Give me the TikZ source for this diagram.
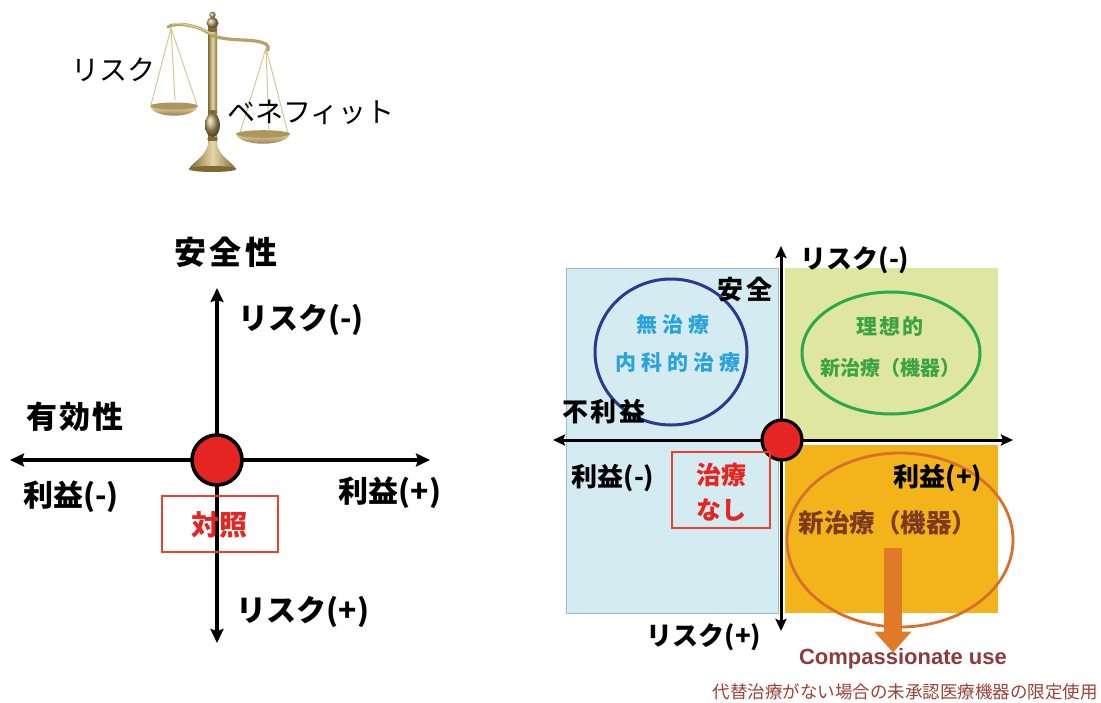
\documentclass[tikz,border=0pt]{standalone}
\usepackage{fontspec}
\usetikzlibrary{arrows.meta,shapes.geometric}
\newfontfamily\jp{Noto Sans CJK JP}
\newfontfamily\lat{Liberation Sans}
\definecolor{goldL}{HTML}{E6D6A6}
\definecolor{goldM}{HTML}{B9A067}
\definecolor{goldD}{HTML}{7E6836}
\definecolor{paneBlue}{HTML}{D3EBF1}
\definecolor{paneBlueEdge}{HTML}{9DB9CB}
\definecolor{paneGreen}{HTML}{DFE6A0}
\definecolor{paneOrange}{HTML}{F2B31B}
\definecolor{boxRed}{HTML}{E8412C}
\definecolor{dotRed}{HTML}{E52521}
\definecolor{ringBlue}{HTML}{2B3990}
\definecolor{txtCyan}{HTML}{2AA3DA}
\definecolor{ringGreen}{HTML}{2AA84A}
\definecolor{txtGreen}{HTML}{3BA344}
\definecolor{txtBrown}{HTML}{7E3A1F}
\definecolor{ringOrange}{HTML}{D8702C}
\definecolor{arrOrange}{HTML}{E07A27}
\definecolor{txtMaroon}{HTML}{8E3B3B}
\definecolor{txtRust}{HTML}{9B4236}
\begin{document}
\begin{tikzpicture}[x=1pt,y=-1pt,
  axline/.style={line width=3.6pt,{Stealth[length=14pt,width=13pt,inset=2pt]}-{Stealth[length=14pt,width=13pt,inset=2pt]}},
  axlineR/.style={line width=3pt,{Stealth[length=12pt,width=11pt,inset=2pt]}-{Stealth[length=12pt,width=11pt,inset=2pt]}},
  labL/.style={inner sep=0pt,font=\jp\bfseries\fontsize{30}{36}\selectfont},
  labR/.style={inner sep=0pt,font=\jp\bfseries\fontsize{26}{30}\selectfont},
  scalelab/.style={inner sep=0pt,font=\jp\fontsize{28}{32}\selectfont},
  origin/.style={circle,draw=black,fill=dotRed,line width=3.6pt,inner sep=0pt},
  redframe/.style={draw=boxRed,line width=2.6pt,inner sep=0pt},
  inner/.style={inner sep=0pt,font=\jp\bfseries\fontsize{21}{24}\selectfont\addfontfeature{LetterSpace=10}},
  innerwide/.style={inner sep=0pt,font=\jp\bfseries\fontsize{21}{24}\selectfont\addfontfeature{LetterSpace=24}},
  string/.style={goldL!70!goldM,line width=1pt},
]
\useasboundingbox (0,0) rectangle (1101,702);
\fill[white] (0,0) rectangle (1101,702);

% ---------------- balance scale ----------------
% strings
\draw[string] (171,28) -- (151,105) (171,28) -- (197,105) (171,28) -- (175,100);
\draw[string] (266,48) -- (240,133) (266,48) -- (288,133) (266,48) -- (269,131);
% pole
\shade[left color=goldD,right color=goldD!80!goldM,middle color=goldL] (208,26) rectangle (217,146);
% beam
\draw[goldM,line width=3.2pt,line cap=round] (168,27) .. controls (175,22) and (198,24) .. (213,36) .. controls (232,42) and (255,38) .. (266,44) .. controls (268,46) and (269,48) .. (268,50);
\draw[goldL,line width=1pt] (172,24) .. controls (185,22) and (200,28) .. (213,34);
% finial
\shade[ball color=goldM] (212.5,15) circle (3.2);
\shade[ball color=goldM] (212.5,23) ellipse (6 and 5.5);
\fill[goldD] (212.5,30) ellipse (5 and 2);
% knob and rings
\shade[ball color=goldM] (212.5,125) ellipse (7.5 and 12);
\fill[goldD] (212.5,112) ellipse (5 and 2);
\fill[goldD] (212.5,139) ellipse (5.5 and 2.2);
% base
\shade[left color=goldD,right color=goldD,middle color=goldL] (208.5,141) .. controls (207,157) and (193,161) .. (189,169) -- (236,169) .. controls (232,161) and (218,157) .. (216.5,141) -- cycle;
\fill[goldD] (212.5,169) ellipse (24 and 3);
% pans
\shade[top color=goldL,bottom color=goldD] (150,106) .. controls (154,119) and (194,119) .. (198,106) -- cycle;
\fill[goldM!80!goldD] (174,106) ellipse (24 and 3.5);
\shade[top color=goldL,bottom color=goldD] (236,134) .. controls (240,147) and (286,147) .. (290,134) -- cycle;
\fill[goldM!80!goldD] (263,134) ellipse (27 and 3.8);
% labels of the scale
\node[scalelab] (risk) at (113,70) {リスク};
\node[scalelab] (benefit) at (311,112) {ベネフィット};

% ---------------- left chart ----------------
\coordinate (lW) at (10,460);
\coordinate (lE) at (430,460);
\coordinate (lN) at (217,288);
\coordinate (lS) at (217,643);
\draw[axline] (lW) -- (lE);
\draw[axline] (lN) -- (lS);
\node[origin,minimum size=50pt] (lO) at (217,460) {};
\node[redframe,minimum width=116pt,minimum height=56pt] (ctrlbox) at (220,524) {};
\node[inner sep=0pt,text=dotRed,font=\jp\bfseries\fontsize{28}{32}\selectfont] (ctrl) at (219,525) {対照};
\node[labL,font=\jp\bfseries\fontsize{32}{36}\selectfont\addfontfeature{LetterSpace=10}] (safety) at (226,252) {安全性};
\node[labL] (lRiskMinus) at (301,320) {リスク(-)};
\node[labL,font=\jp\bfseries\fontsize{31}{36}\selectfont\addfontfeature{LetterSpace=6}] (efficacy) at (75,417) {有効性};
\node[labL] (lBenMinus) at (71,497) {利益(-)};
\node[labL] (lBenPlus) at (390,493) {利益(+)};
\node[labL] (lRiskPlus) at (303,612) {リスク(+)};

% ---------------- right chart ----------------
\fill[paneBlue,draw=paneBlueEdge,line width=0.8pt] (566,268) rectangle (778,613);
\fill[paneGreen] (785,268) rectangle (998,440);
\fill[paneOrange] (785,445) rectangle (998,613);

\node[ellipse,draw=ringBlue,line width=3pt,minimum width=152pt,minimum height=146pt] (noTreat) at (671,352) {};
\node[innerwide,text=txtCyan] (noTreat1) at (673,325) {無治療};
\node[innerwide,text=txtCyan] (noTreat2) at (678,363) {内科的治療};

\node[ellipse,draw=ringGreen,line width=3pt,minimum width=178pt,minimum height=122pt] (ideal) at (891,353) {};
\node[inner,text=txtGreen] (ideal1) at (890,327) {理想的};
\node[inner,text=txtGreen,font=\jp\bfseries\fontsize{20}{24}\selectfont\addfontfeature{LetterSpace=0}] (ideal2) at (890,368) {新治療（機器）};

\node[ellipse,draw=ringOrange,line width=2.8pt,minimum width=226pt,minimum height=174pt] (newTreat) at (900,540) {};
\node[inner sep=0pt,text=txtBrown,font=\jp\bfseries\fontsize{25.5}{28}\selectfont] (newTreatTxt) at (888,523) {新治療（機器）};

\coordinate (rW) at (553,440);
\coordinate (rE) at (1013,440);
\coordinate (rN) at (781,246);
\coordinate (rS) at (781,631);
\draw[axlineR] (rW) -- (rE);
\draw[axlineR] (rN) -- (rS);
\node[origin,minimum size=40pt,line width=3.2pt] (rO) at (782,440) {};

\node[redframe,minimum width=98pt,minimum height=76pt] (nonebox) at (721,490) {};
\node[inner sep=0pt,text=dotRed,font=\jp\bfseries\fontsize{25}{28}\selectfont] (none1) at (721,475) {治療};
\node[inner sep=0pt,text=dotRed,font=\jp\bfseries\fontsize{25}{28}\selectfont] (none2) at (721,510) {なし};

\node[labR] (rRiskMinus) at (855,260) {リスク(-)};
\node[labR,font=\jp\bfseries\fontsize{26}{30}\selectfont\addfontfeature{LetterSpace=8}] (rSafe) at (745,290) {安全};
\node[labR,font=\jp\bfseries\fontsize{26}{30}\selectfont\addfontfeature{LetterSpace=8}] (rHarm) at (604,412) {不利益};
\node[labR] (rBenMinus) at (613,478) {利益(-)};
\node[labR] (rBenPlus) at (938,478) {利益(+)};
\node[labR] (rRiskPlus) at (704,637) {リスク(+)};

\node[inner sep=0pt,text=txtMaroon,font=\lat\bfseries\fontsize{22}{26}\selectfont] (cu) at (903,659) {Compassionate use};
\node[inner sep=0pt,text=txtRust,font=\jp\fontsize{17.5}{20}\selectfont] (cuNote) at (905,692) {代替治療がない場合の未承認医療機器の限定使用};

\coordinate (arrStart) at (893,548);
\draw[arrOrange,line width=18pt,-{Triangle[length=21pt,width=36pt]}] (arrStart) -- ([yshift=-4pt]cu.north -| arrStart);
\end{tikzpicture}
\end{document}
